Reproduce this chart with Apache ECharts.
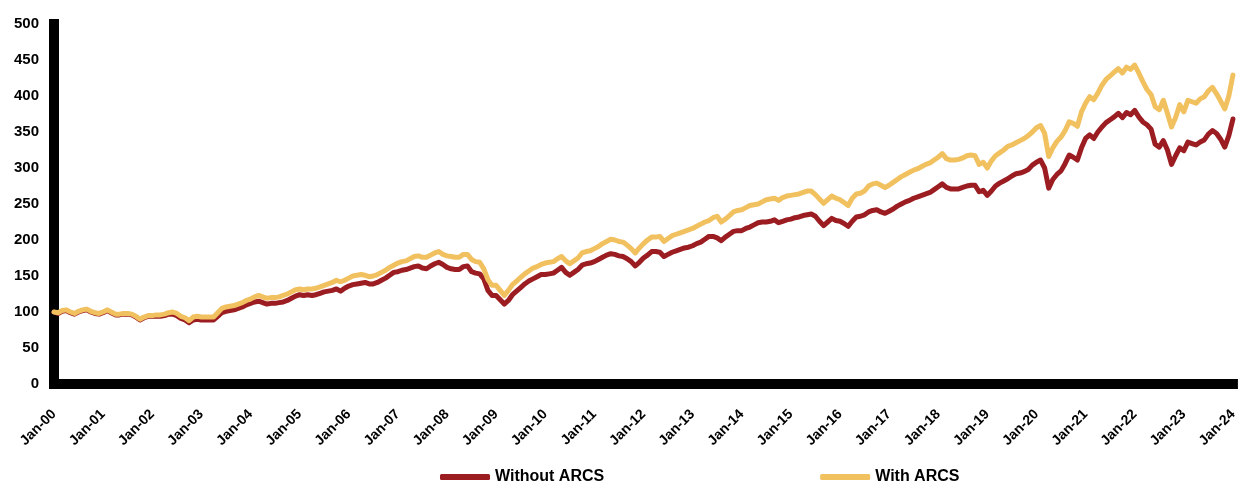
<!DOCTYPE html>
<html>
<head>
<meta charset="utf-8">
<script src="https://cdn.jsdelivr.net/npm/echarts@6/dist/echarts.min.js"></script>
<style>
html,body{margin:0;padding:0;background:#fff;}
#chart{width:1240px;height:484px;}
</style>
</head>
<body>
<div id="chart"></div>
<script>
// Monthly index values, Jan-00 .. Jan-24
const monthNames = ['Jan','Feb','Mar','Apr','May','Jun','Jul','Aug','Sep','Oct','Nov','Dec'];
const years = ['00','01','02','03','04','05','06','07','08','09','10','11','12','13','14','15','16','17','18','19','20','21','22','23','24'];

const withoutARCS = [
 100,98,101,102,99,97,100,102,103,100,98,97,
 99,102,99,96,96,97,97,96,93,89,92,94,
 94,94,94,95,97,97,95,91,89,85,89,90,
 89,89,89,89,94,99,101,102,103,105,107,110,
 112,114,115,113,111,112,112,113,114,116,119,122,
 124,123,124,123,124,126,128,129,130,132,129,133,
 136,138,139,140,141,139,139,141,144,147,151,155,
 156,158,159,161,163,164,161,160,164,167,169,166,
 162,160,159,159,163,164,156,154,153,146,130,123,
 123,117,111,116,124,129,134,139,143,146,149,152,
 152,153,154,158,162,155,151,155,159,165,167,168,
 170,173,176,179,181,180,178,177,174,170,164,169,
 175,179,184,184,183,177,180,183,185,187,189,190,
 192,195,197,201,205,205,203,199,204,208,212,213,
 213,216,218,221,224,225,225,226,228,224,226,228,
 229,231,232,234,235,236,233,226,220,225,230,227,
 226,223,219,226,232,233,235,239,241,242,239,237,
 240,243,247,250,253,255,258,260,262,264,266,270,
 274,278,273,271,271,271,273,275,276,276,267,269,
 262,268,275,279,282,285,289,292,293,295,298,304,
 308,311,300,272,284,291,296,306,318,315,311,328,
 341,346,341,350,357,363,367,371,376,370,377,374,
 380,371,364,360,354,333,329,338,325,305,317,328,
 324,336,334,332,336,339,347,352,348,340,329,345,
 368
];

const withARCS = [
 100,99,102,103,100,98,101,103,104,101,99,98,
 100,103,100,97,97,98,98,97,94,90,93,95,
 95,96,96,97,99,100,98,94,92,88,93,94,
 93,93,93,93,99,105,107,108,109,111,113,116,
 118,121,123,121,119,120,120,121,123,125,128,131,
 132,131,132,132,133,135,137,139,141,144,142,144,
 147,150,151,152,151,149,150,152,155,158,162,165,
 168,170,171,174,177,178,176,176,179,182,184,180,
 178,177,176,176,180,180,173,170,169,160,145,137,
 137,130,123,130,138,143,148,153,157,161,163,166,
 168,169,170,174,177,171,167,171,175,182,184,185,
 188,191,195,198,201,200,198,197,193,188,182,189,
 195,200,204,204,205,198,202,206,208,210,212,214,
 216,219,222,225,227,231,233,225,229,234,239,241,
 242,245,248,249,250,253,256,257,258,255,259,261,
 262,263,264,266,268,268,263,257,251,256,261,258,
 256,252,248,258,264,265,268,275,278,279,276,273,
 276,280,284,288,291,294,297,299,302,305,307,311,
 315,320,313,311,311,312,314,317,318,317,305,308,
 300,310,317,321,325,330,332,335,338,341,345,350,
 356,359,348,316,328,337,343,352,364,362,358,378,
 390,399,395,404,415,423,428,433,438,432,440,437,
 443,432,420,409,402,385,381,394,376,357,370,388,
 378,394,392,390,396,399,407,412,403,393,382,400,
 429
];

const seriesNames = ['Without ARCS', 'With ARCS'];
const yTicks = [0, 500, 50];

const categories = [];
years.forEach(function (y, i) {
  monthNames.forEach(function (m, j) {
    if (i < years.length - 1 || j === 0) categories.push(m + '-' + y);
  });
});

const chart = echarts.init(document.getElementById('chart'), null, {renderer: 'canvas'});
const labelFont = {fontFamily: 'Liberation Sans, Arial, sans-serif', fontWeight: 'bold', color: '#000'};

chart.setOption({
  animation: false,
  backgroundColor: '#fff',
  grid: {left: 54, right: 3, top: 24, bottom: 100, containLabel: false},
  legend: {
    left: 440, top: 469, padding: 0,
    itemWidth: 50, itemHeight: 6, itemGap: 216,
    icon: 'roundRect',
    textStyle: Object.assign({fontSize: 16}, labelFont),
    data: seriesNames
  },
  xAxis: {
    type: 'category',
    data: categories,
    boundaryGap: false,
    axisLine: {show: true, lineStyle: {color: '#000', width: 10, cap: 'square'}},
    axisTick: {show: false},
    axisLabel: Object.assign({interval: 11, rotate: 45, fontSize: 14, margin: 28}, labelFont),
    splitLine: {show: false}
  },
  yAxis: {
    type: 'value',
    min: yTicks[0], max: yTicks[1], interval: yTicks[2],
    axisLine: {show: true, lineStyle: {color: '#000', width: 10, cap: 'square'}},
    axisTick: {show: false},
    axisLabel: Object.assign({fontSize: 15, margin: 15}, labelFont),
    splitLine: {show: false}
  },
  series: [
    {
      name: seriesNames[0], type: 'line', data: withoutARCS,
      showSymbol: false, symbol: 'none',
      lineStyle: {color: '#9B1C21', width: 5, join: 'round', cap: 'round'},
      itemStyle: {color: '#9B1C21'}
    },
    {
      name: seriesNames[1], type: 'line', data: withARCS,
      showSymbol: false, symbol: 'none',
      lineStyle: {color: '#F1C160', width: 5, join: 'round', cap: 'round'},
      itemStyle: {color: '#F1C160'}
    }
  ]
});
</script>
</body>
</html>
